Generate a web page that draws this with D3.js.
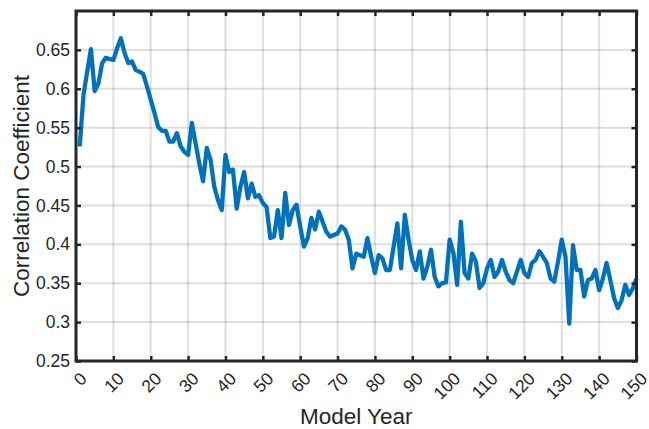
<!DOCTYPE html>
<html>
<head>
<meta charset="utf-8">
<script src="https://cdn.jsdelivr.net/npm/d3@7"></script>
<style>
  html, body { margin: 0; padding: 0; background: #fff; }
  svg { display: block; }
  text { font-family: "Liberation Sans", Arial, Helvetica, sans-serif; fill: #262626; }
</style>
</head>
<body>
<svg id="chart" width="649" height="429"></svg>
<script>
// ---- data ----
const years = d3.range(1, 151);
const correlation = [
  0.526, 0.592, 0.622, 0.651, 0.597, 0.607, 0.633, 0.640, 0.638, 0.637,
  0.652, 0.665, 0.646, 0.633, 0.635, 0.624, 0.622, 0.619, 0.603, 0.586,
  0.569, 0.551, 0.546, 0.546, 0.532, 0.532, 0.543, 0.526, 0.519, 0.515,
  0.556, 0.530, 0.504, 0.481, 0.524, 0.509, 0.474, 0.457, 0.444, 0.515,
  0.493, 0.496, 0.446, 0.474, 0.493, 0.459, 0.478, 0.461, 0.463, 0.453,
  0.448, 0.408, 0.410, 0.444, 0.408, 0.466, 0.425, 0.444, 0.451, 0.423,
  0.397, 0.408, 0.434, 0.419, 0.442, 0.429, 0.416, 0.410, 0.412, 0.414,
  0.423, 0.419, 0.406, 0.369, 0.388, 0.386, 0.384, 0.408, 0.384, 0.363,
  0.386, 0.382, 0.367, 0.367, 0.397, 0.427, 0.369, 0.438, 0.406, 0.380,
  0.367, 0.391, 0.356, 0.371, 0.393, 0.358, 0.346, 0.350, 0.351, 0.406,
  0.389, 0.348, 0.429, 0.363, 0.356, 0.388, 0.378, 0.344, 0.350, 0.369,
  0.380, 0.358, 0.365, 0.380, 0.365, 0.354, 0.350, 0.365, 0.380, 0.363,
  0.358, 0.376, 0.380, 0.391, 0.384, 0.376, 0.356, 0.352, 0.378, 0.406,
  0.384, 0.298, 0.399, 0.367, 0.367, 0.333, 0.354, 0.356, 0.367, 0.341,
  0.356, 0.376, 0.354, 0.331, 0.318, 0.328, 0.348, 0.335, 0.343, 0.356
];
const xTicks = d3.range(0, 151, 10);
const yTicks = [0.25, 0.3, 0.35, 0.4, 0.45, 0.5, 0.55, 0.6, 0.65];
const xLabel = "Model Year";
const yLabel = "Correlation Coefficient";

// ---- layout ----
const W = 649, H = 429;
const m = { left: 76, top: 11, right: 12.5, bottom: 68 };
const iw = W - m.left - m.right, ih = H - m.top - m.bottom;

const svg = d3.select("#chart");
const g = svg.append("g").attr("transform", `translate(${m.left},${m.top})`);

const x = d3.scaleLinear().domain([0, 150]).range([0, iw]);
const y = d3.scaleLinear().domain([0.25, 0.7]).range([ih, 0]);

// grid
g.append("g").selectAll("line").data(xTicks.filter(d => d > 0 && d < 150)).join("line")
  .attr("x1", d => x(d)).attr("x2", d => x(d)).attr("y1", 0).attr("y2", ih)
  .attr("stroke", "#262626").attr("stroke-opacity", 0.15).attr("stroke-width", 2);
g.append("g").selectAll("line").data(yTicks.filter(d => d > 0.25)).join("line")
  .attr("x1", 0).attr("x2", iw).attr("y1", d => y(d)).attr("y2", d => y(d))
  .attr("stroke", "#262626").attr("stroke-opacity", 0.15).attr("stroke-width", 2);

// line
const line = d3.line().x((d, i) => x(years[i])).y(d => y(d));
g.append("path").datum(correlation)
  .attr("d", line).attr("fill", "none")
  .attr("stroke", "#0072BD").attr("stroke-width", 4.3)
  .attr("stroke-linejoin", "round").attr("stroke-linecap", "butt");

// axes (ticks inward, box)
const tickLen = 5;
const xAxisB = d3.axisBottom(x).tickValues(xTicks).tickSize(-tickLen).tickFormat("");
const xAxisT = d3.axisTop(x).tickValues(xTicks).tickSize(-tickLen).tickFormat("");
const yAxisL = d3.axisLeft(y).tickValues(yTicks).tickSize(-tickLen).tickFormat("");
const yAxisR = d3.axisRight(y).tickValues(yTicks).tickSize(-tickLen).tickFormat("");

function styleAxis(sel) {
  sel.select(".domain").remove();
  sel.selectAll(".tick line").attr("stroke", "#262626").attr("stroke-width", 2.5);
}
g.append("g").attr("transform", `translate(0,${ih})`).call(xAxisB).call(styleAxis);
g.append("g").call(xAxisT).call(styleAxis);
g.append("g").call(yAxisL).call(styleAxis);
g.append("g").attr("transform", `translate(${iw},0)`).call(yAxisR).call(styleAxis);

g.append("rect").attr("x", 0).attr("y", 0).attr("width", iw).attr("height", ih)
  .attr("fill", "none").attr("stroke", "#262626").attr("stroke-width", 3);

// tick labels
g.append("g").selectAll("text").data(xTicks).join("text")
  .attr("transform", d => `translate(${x(d) + 3},${ih + 10}) rotate(-45)`)
  .attr("text-anchor", "end").attr("dy", "0.71em")
  .attr("font-size", 17.5).text(d => d);

g.append("g").selectAll("text").data(yTicks).join("text")
  .attr("x", -6).attr("y", d => y(d)).attr("dy", "0.35em")
  .attr("text-anchor", "end").attr("font-size", 17.5)
  .text(d => d3.format("")(d));

// axis titles
svg.append("text").attr("x", m.left + iw / 2).attr("y", 424)
  .attr("text-anchor", "middle").attr("font-size", 22.5).text(xLabel);
svg.append("text")
  .attr("transform", `translate(29,${m.top + ih / 2}) rotate(-90)`)
  .attr("text-anchor", "middle").attr("font-size", 22.5).text(yLabel);
</script>
</body>
</html>
